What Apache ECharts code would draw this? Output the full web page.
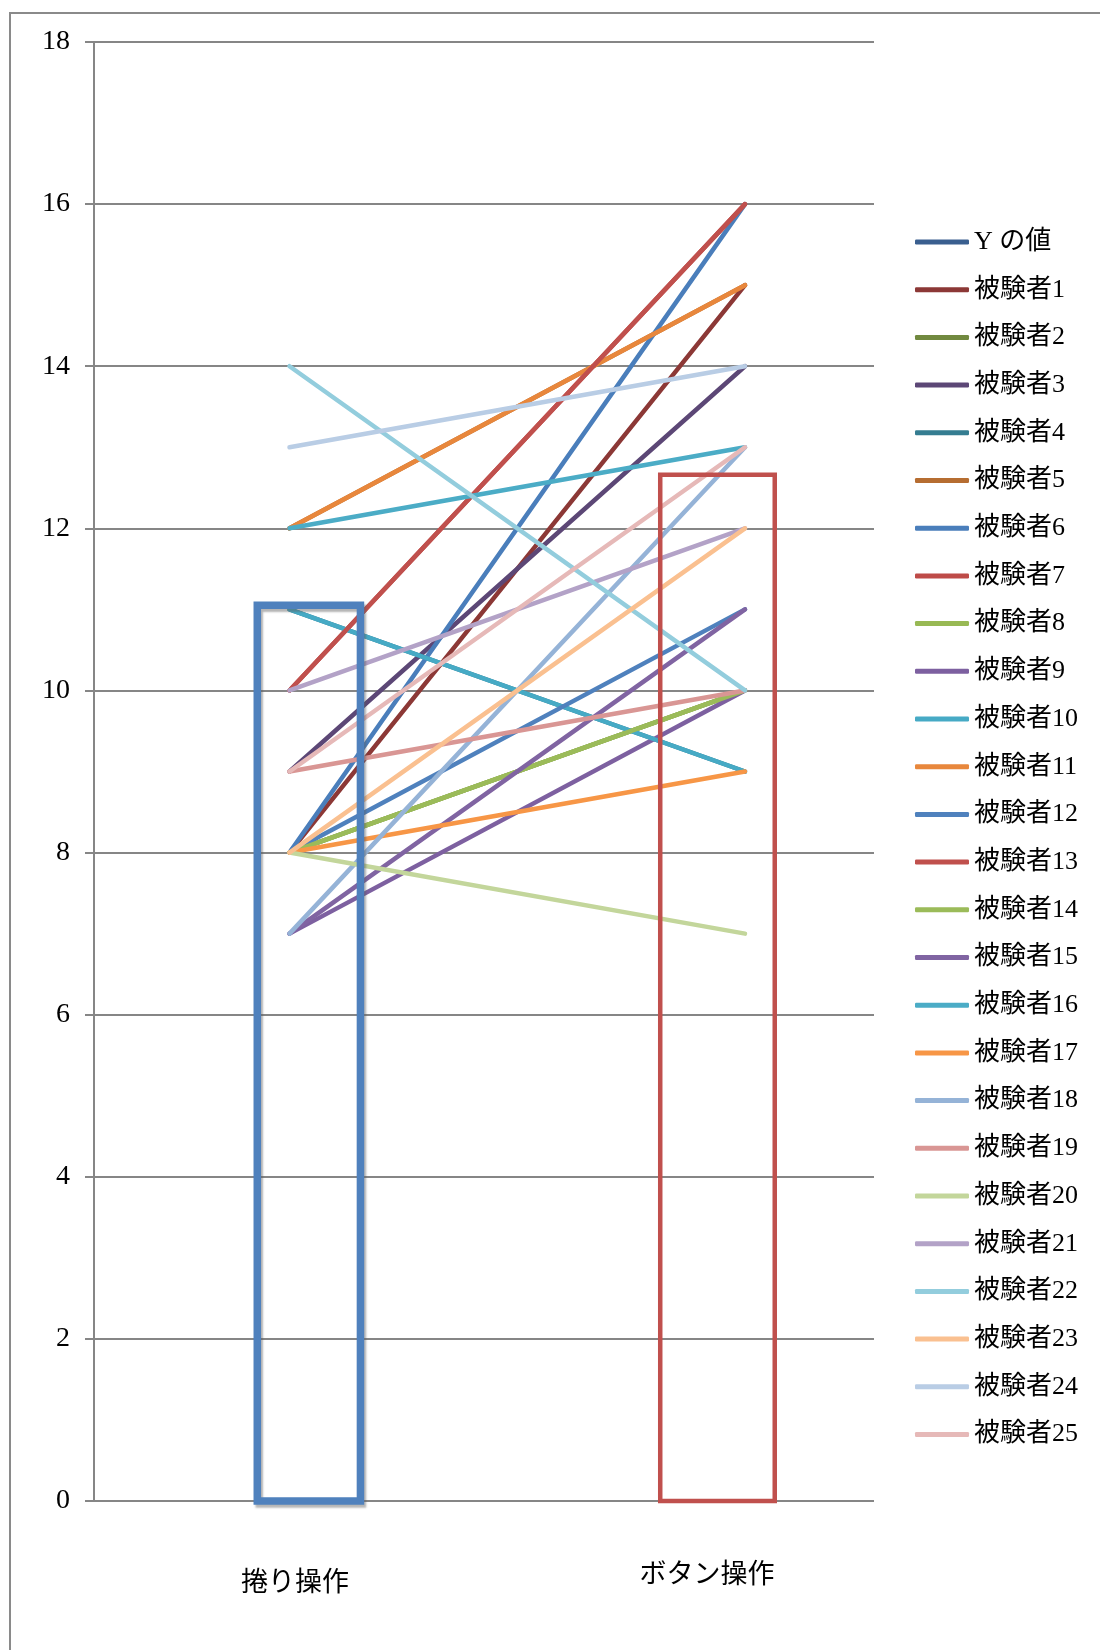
<!DOCTYPE html>
<html>
<head>
<meta charset="utf-8">
<script src="https://cdn.jsdelivr.net/npm/echarts@6/dist/echarts.min.js"></script>
<style>
html,body{margin:0;padding:0;background:#fff;}
#chart{width:1100px;height:1650px;}
</style>
</head>
<body>
<div id="chart"></div>
<script>
// ---- data ----
const categories = ['捲り操作', 'ボタン操作'];
const seriesNames = ['Y の値',
  '被験者1','被験者2','被験者3','被験者4','被験者5','被験者6','被験者7','被験者8','被験者9','被験者10',
  '被験者11','被験者12','被験者13','被験者14','被験者15','被験者16','被験者17','被験者18','被験者19','被験者20',
  '被験者21','被験者22','被験者23','被験者24','被験者25'];
// scores for 捲り操作 (left) and ボタン操作 (right); first entry = "Y の値" (empty)
const leftValues  = [null, 8, 8, 9, 11, 12, 8, 10, 8, 7, 11, 12, 8, 10, 8, 7, 12, 8, 7, 9, 8, 10, 14, 8, 13, 9];
const rightValues = [null, 15, 10, 14, 9, 15, 16, 16, 10, 10, 9, 15, 11, 16, 10, 11, 13, 9, 13, 10, 7, 12, 10, 12, 14, 13];
const boxValues = [11.05, 12.66];
const yTicks = [0, 2, 4, 6, 8, 10, 12, 14, 16, 18];

// ---- styles / layout ----
const colors = ['#3A5F8F',
  '#8C3836','#71893F','#5C4776','#357D91','#B66D31',
  '#4A7EBB','#BE4B48','#98B954','#7D60A0','#46AAC5','#E8873C',
  '#4F81BD','#C0504D','#9BBB59','#8064A2','#4BACC6','#F79646',
  '#95B3D7','#D99694','#C3D69B','#B3A2C7','#93CDDD','#FAC090',
  '#B9CDE5','#E6B9B8'];
const boxLayout = [
  {x: 1.0425, w: 0.2265, color: '#4F81BD', lw: 7.5, shadow: true},
  {x: 1.9396, w: 0.2514, color: '#C0504D', lw: 4.5, shadow: false}
];
const catLabelPos = [[295, 1581], [707, 1573]];
const serifFont = '"Liberation Serif", "DejaVu Serif", "Noto Sans CJK JP", serif';

const chart = echarts.init(document.getElementById('chart'), null, {renderer: 'canvas'});

const lineSeries = seriesNames.map((name, i) => ({
  name: name,
  type: 'line',
  data: leftValues[i] == null ? [] : [[1, leftValues[i]], [2, rightValues[i]]],
  showSymbol: false,
  symbol: 'none',
  color: colors[i],
  lineStyle: {width: 4.5, color: colors[i], cap: 'round', join: 'round'},
  emphasis: {disabled: true},
  animation: false,
  z: 2
}));

const boxSeries = {
  type: 'custom',
  name: 'boxes',
  z: 5,
  animation: false,
  data: boxValues.map((v, i) => [boxLayout[i].x, v]),
  renderItem: function (params, api) {
    const L = boxLayout[params.dataIndex];
    const top = api.coord([api.value(0), api.value(1)]);
    const bot = api.coord([api.value(0), 0]);
    const hw = api.size([L.w, 0])[0] / 2;
    const style = {fill: 'none', stroke: L.color, lineWidth: L.lw};
    if (L.shadow) {
      style.shadowColor = 'rgba(90,90,90,0.45)';
      style.shadowOffsetX = 2;
      style.shadowOffsetY = 3;
      style.shadowBlur = 2;
    }
    return {
      type: 'rect',
      shape: {x: top[0] - hw, y: top[1], width: hw * 2, height: bot[1] - top[1]},
      style: style
    };
  }
};

const option = {
  backgroundColor: '#ffffff',
  animation: false,
  grid: {left: 94, right: 226, top: 42, bottom: 149, containLabel: false},
  xAxis: {
    type: 'value',
    min: 0.5708,
    max: 2.2832,
    axisLine: {show: false},
    axisTick: {show: false},
    axisLabel: {show: false},
    splitLine: {show: false}
  },
  yAxis: {
    type: 'value',
    min: 0,
    max: 18,
    interval: 2,
    axisLine: {show: true, lineStyle: {color: '#868686', width: 2}},
    axisTick: {show: true, inside: false, length: 9, lineStyle: {color: '#868686', width: 2}},
    axisLabel: {
      margin: 24,
      color: '#000',
      fontSize: 28,
      fontFamily: serifFont,
      formatter: function (v) { return yTicks.indexOf(v) >= 0 ? String(v) : ''; }
    },
    splitLine: {show: true, lineStyle: {color: '#868686', width: 2}}
  },
  legend: {
    orient: 'vertical',
    left: 910,
    top: 222,
    data: seriesNames,
    icon: 'roundRect',
    itemWidth: 54,
    itemHeight: 5,
    itemGap: 17.7,
    selectedMode: false,
    textStyle: {fontSize: 26, lineHeight: 30, color: '#000', fontFamily: serifFont}
  },
  graphic: [
    {
      type: 'rect',
      silent: true,
      z: -10,
      shape: {x: 10, y: 13, width: 1200, height: 1700},
      style: {fill: 'none', stroke: '#8a8a8a', lineWidth: 2}
    }
  ].concat(categories.map((c, i) => ({
    type: 'text',
    silent: true,
    x: catLabelPos[i][0],
    y: catLabelPos[i][1],
    style: {
      text: c,
      fontSize: 27,
      fontFamily: '"Noto Sans CJK JP", sans-serif',
      fill: '#000',
      textAlign: 'center',
      textVerticalAlign: 'middle'
    }
  }))),
  series: lineSeries.concat([boxSeries])
};

chart.setOption(option);
</script>
</body>
</html>
